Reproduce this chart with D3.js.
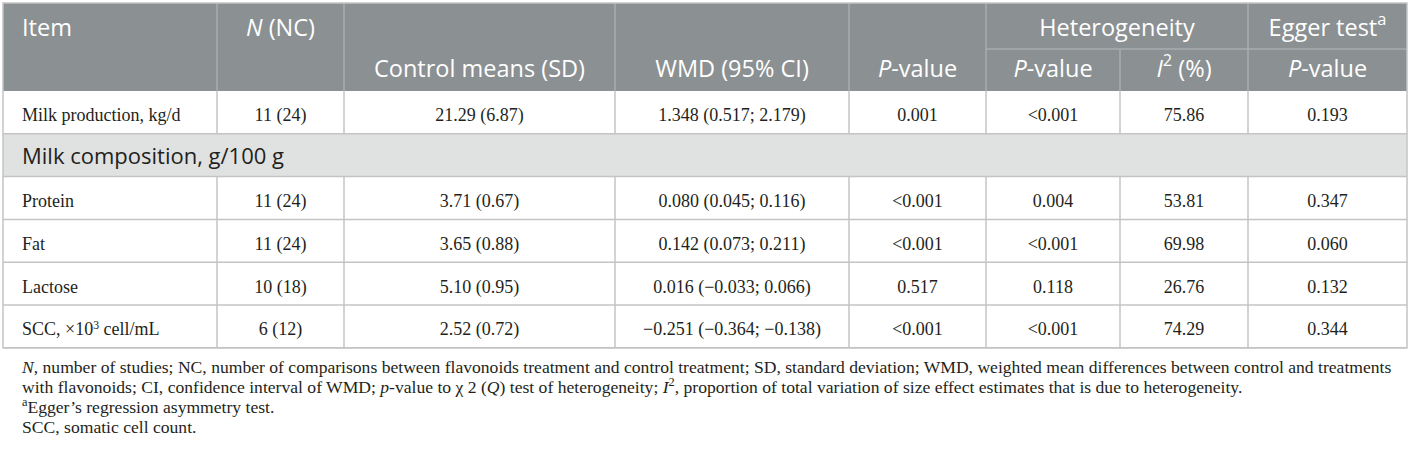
<!DOCTYPE html>
<meta charset="utf-8">
<script src="https://d3js.org/d3.v7.min.js"></script>
<style>
  body { margin: 0; background: #fff; }
</style>
<div id="my_table"></div>
<script>

// table content
var items = ["Milk production, kg/d", "Protein", "Fat", "Lactose", "SCC, \u00d710|3| cell/mL"];
var groupLabel = "Milk composition, g/100 g";
var nValues = ["11 (24)", "11 (24)", "11 (24)", "10 (18)", "6 (12)"];
var controlMeans = ["21.29 (6.87)", "3.71 (0.67)", "3.65 (0.88)", "5.10 (0.95)", "2.52 (0.72)"];
var wmd = ["1.348 (0.517; 2.179)", "0.080 (0.045; 0.116)", "0.142 (0.073; 0.211)",
           "0.016 (\u22120.033; 0.066)", "\u22120.251 (\u22120.364; \u22120.138)"];
var pValues = ["0.001", "<0.001", "<0.001", "0.517", "<0.001"];
var hetP = ["<0.001", "0.004", "<0.001", "0.118", "<0.001"];
var i2 = ["75.86", "53.81", "69.98", "26.76", "74.29"];
var egger = ["0.193", "0.347", "0.060", "0.132", "0.344"];

// footnote lines, segments: [text, style]
var footnotes = [
  [["N", "i"], [", number of studies; NC, number of comparisons between flavonoids treatment and control treatment; SD, standard deviation; WMD, weighted mean differences between control and treatments", ""]],
  [["with flavonoids; CI, confidence interval of WMD; ", ""], ["p", "i"], ["-value to \u03c7 2 (", ""], ["Q", "i"], [") test of heterogeneity; ", ""], ["I", "i"], ["2", "sup"], [", proportion of total variation of size effect estimates that is due to heterogeneity.", ""]],
  [["a", "sup"], ["Egger\u2019s regression asymmetry test.", ""]],
  [["SCC, somatic cell count.", ""]]
];

// layout
var W = 1411, H = 452;
var colEdges = [3, 217, 344, 615, 849, 986, 1120, 1248, 1407];
var topY = 3, headMid = 49, headBottom = 91, rowH = 42.8;
var lineColor = "#c4c4c4", headColor = "#8b9092", bandColor = "#e0e2e2";
var sans = "'Open Sans', 'Noto Sans', sans-serif";
var serif = "'Liberation Serif', 'DejaVu Serif', serif";

var svg = d3.select("#my_table").append("svg")
  .attr("width", W).attr("height", H);

// rows: 0 = milk production, 1 = group band, 2.. = composition items
var rowKeys = d3.range(items.length + 1);
var y = d3.scaleBand().domain(rowKeys).range([headBottom, headBottom + rowH * rowKeys.length]);
var tableBottom = y.range()[1];

// header background
svg.append("rect")
  .attr("x", colEdges[0]).attr("y", topY)
  .attr("width", colEdges[8] - colEdges[0]).attr("height", headBottom - topY)
  .attr("fill", headColor);

// group band
svg.append("rect")
  .attr("x", colEdges[0]).attr("y", y(1))
  .attr("width", colEdges[8] - colEdges[0]).attr("height", y.bandwidth())
  .attr("fill", bandColor);

// helper to write text made of styled segments
function richText(sel, segs, size) {
  segs.forEach(function(s) {
    var t = sel.append("tspan").text(s[0]);
    if (s[1] === "i") t.attr("font-style", "italic");
    if (s[1] === "sup") t.attr("font-size", size * 0.7).attr("baseline-shift", "super");
  });
}

// header labels
var headSize = 23.5;
var headers = [
  {segs: [["Item", ""]], x: colEdges[0] + 19, row: 0, anchor: "start"},
  {segs: [["N", "i"], [" (NC)", ""]], x: (colEdges[1] + colEdges[2]) / 2, row: 0},
  {segs: [["Control means (SD)", ""]], x: (colEdges[2] + colEdges[3]) / 2, row: 1},
  {segs: [["WMD (95% CI)", ""]], x: (colEdges[3] + colEdges[4]) / 2, row: 1},
  {segs: [["P", "i"], ["-value", ""]], x: (colEdges[4] + colEdges[5]) / 2, row: 1},
  {segs: [["Heterogeneity", ""]], x: (colEdges[5] + colEdges[7]) / 2, row: 0},
  {segs: [["Egger test", ""], ["a", "sup"]], x: (colEdges[7] + colEdges[8]) / 2, row: 0},
  {segs: [["P", "i"], ["-value", ""]], x: (colEdges[5] + colEdges[6]) / 2, row: 1},
  {segs: [["I", "i"], ["2", "sup"], [" (%)", ""]], x: (colEdges[6] + colEdges[7]) / 2, row: 1},
  {segs: [["P", "i"], ["-value", ""]], x: (colEdges[7] + colEdges[8]) / 2, row: 1}
];
headers.forEach(function(h) {
  var base = h.row === 0 ? 36 : 77;
  var t = svg.append("text")
    .attr("x", h.x).attr("y", base)
    .attr("text-anchor", h.anchor || "middle")
    .attr("font-family", sans).attr("font-size", headSize)
    .attr("fill", "#fff");
  richText(t, h.segs, headSize);
});

// header separators
var headLines = svg.append("g").attr("stroke", "#a9adaf").attr("stroke-width", 1.5);
[1, 2, 3, 4, 5, 7].forEach(function(i) {
  headLines.append("line")
    .attr("x1", colEdges[i]).attr("x2", colEdges[i])
    .attr("y1", topY).attr("y2", headBottom);
});
headLines.append("line")
  .attr("x1", colEdges[6]).attr("x2", colEdges[6])
  .attr("y1", headMid).attr("y2", headBottom);
headLines.append("line")
  .attr("x1", colEdges[5]).attr("x2", colEdges[8])
  .attr("y1", headMid).attr("y2", headMid);

// body cells
var bodySize = 18;
var columns = [items, nValues, controlMeans, wmd, pValues, hetP, i2, egger];
var rowOf = function(i) { return i === 0 ? 0 : i + 1; };

columns.forEach(function(col, c) {
  svg.append("g").selectAll("text")
    .data(col)
    .join("text")
      .attr("x", c === 0 ? colEdges[0] + 19 : (colEdges[c] + colEdges[c + 1]) / 2)
      .attr("y", function(d, i) { return y(rowOf(i)) + y.bandwidth() / 2 + 9; })
      .attr("text-anchor", c === 0 ? "start" : "middle")
      .attr("font-family", serif).attr("font-size", bodySize)
      .attr("fill", "#231f20")
      .each(function(d) {
        var parts = d.split("|");
        var t = d3.select(this);
        t.append("tspan").text(parts[0]);
        if (parts.length > 1) {
          t.append("tspan").text(parts[1]).attr("font-size", bodySize * 0.65).attr("baseline-shift", "super");
          t.append("tspan").text(parts[2]);
        }
      });
});

// group label
svg.append("text")
  .attr("x", colEdges[0] + 19).attr("y", y(1) + y.bandwidth() / 2 + 9)
  .attr("font-family", sans).attr("font-size", 22)
  .attr("fill", "#231f20")
  .text(groupLabel);

// body grid
var grid = svg.append("g").attr("stroke", lineColor).attr("stroke-width", 1.5).attr("fill", "none");
rowKeys.forEach(function(r) {
  grid.append("line")
    .attr("x1", colEdges[0]).attr("x2", colEdges[8])
    .attr("y1", y(r) + y.bandwidth()).attr("y2", y(r) + y.bandwidth());
});
rowKeys.filter(function(r) { return r !== 1; }).forEach(function(r) {
  colEdges.slice(1, 8).forEach(function(x) {
    grid.append("line")
      .attr("x1", x).attr("x2", x)
      .attr("y1", y(r)).attr("y2", y(r) + y.bandwidth());
  });
});
grid.append("rect")
  .attr("x", colEdges[0]).attr("y", topY)
  .attr("width", colEdges[8] - colEdges[0]).attr("height", tableBottom - topY);

// footnotes
var footSize = 17.6;
footnotes.forEach(function(segs, i) {
  var t = svg.append("text")
    .attr("x", colEdges[0] + 19)
    .attr("y", tableBottom + 25 + i * 20)
    .attr("font-family", serif).attr("font-size", footSize)
    .attr("fill", "#231f20");
  richText(t, segs, footSize);
});

</script>
